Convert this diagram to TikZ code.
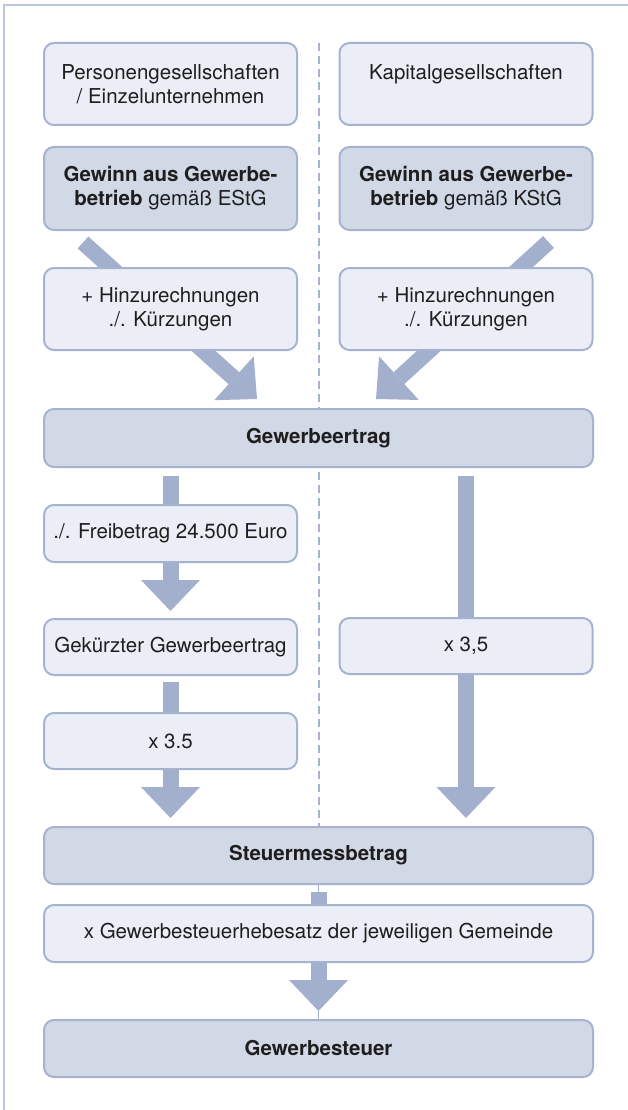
\documentclass[tikz,border=0pt]{standalone}
\usepackage{fontspec}
\setmainfont{TeX Gyre Heros}
\usetikzlibrary{arrows.meta, calc, backgrounds}

\definecolor{boxLine}{HTML}{A6B3D0}
\definecolor{boxLight}{HTML}{EBEEF6}
\definecolor{boxDark}{HTML}{D1D8E6}
\definecolor{arrowBlue}{HTML}{A2AFCD}
\definecolor{frameLine}{HTML}{BCC6DC}
\definecolor{textGray}{HTML}{1E1E1E}

\begin{document}
\begin{tikzpicture}[x=1pt, y=-1pt,
    lightBox/.style={draw=boxLine, line width=2pt, fill=boxLight, rounded corners=10pt,
        align=center, inner sep=0pt, text=textGray, font=\fontsize{20.5}{24}\selectfont},
    darkBox/.style={lightBox, fill=boxDark},
    halfBox/.style={minimum width=253pt},
    fullBox/.style={minimum width=549pt},
    flowBar/.style={draw=arrowBlue, line width=16pt},
    flowArrow/.style={flowBar, -{Triangle[width=59pt, length=31pt, line width=0pt]}}]
    % variables
    \pgfmathsetmacro{\vLeft}{170.5}
    \pgfmathsetmacro{\vRight}{466}
    \pgfmathsetmacro{\vMid}{318.5}

    \useasboundingbox (0,0) rectangle (628,1110);

    % frame
    \draw[frameLine, line width=1.5pt] (4,1110) -- (4,5) -- (628,5);

    % two columns
    \node[lightBox, halfBox, minimum height=82pt] (persG) at (\vLeft,84) {Personengesellschaften\\/ Einzelunternehmen};
    \node[lightBox, halfBox, minimum height=82pt] (kapG) at (\vRight,84) {Kapitalgesellschaften\\\phantom{/ Einzelunternehmen}};

    \node[darkBox, halfBox, minimum height=83pt] (gewinnE) at (\vLeft,188.5) {\textbf{Gewinn aus Gewerbe-}\\\textbf{betrieb} gemäß EStG};
    \node[darkBox, halfBox, minimum height=83pt] (gewinnK) at (\vRight,188.5) {\textbf{Gewinn aus Gewerbe-}\\\textbf{betrieb} gemäß KStG};

    \node[lightBox, halfBox, minimum height=82pt] (hinzuE) at (\vLeft,309) {+ Hinzurechnungen\\./. Kürzungen};
    \node[lightBox, halfBox, minimum height=82pt] (hinzuK) at (\vRight,309) {+ Hinzurechnungen\\./. Kürzungen};

    \node[darkBox, fullBox, minimum height=58pt] (gewerbe) at (\vMid,438) {\textbf{Gewerbeertrag}};

    \node[lightBox, halfBox, minimum height=57pt] (freib) at (\vLeft,533.5) {./. Freibetrag 24.500 Euro};
    \node[lightBox, halfBox, minimum height=56pt] (gekuerzt) at (\vLeft,647) {Gekürzter Gewerbeertrag};
    \node[lightBox, halfBox, minimum height=56pt] (malL) at (\vLeft,741) {x 3.5};
    \node[lightBox, halfBox, minimum height=56pt] (malR) at (\vRight,646) {x 3,5};

    % common part
    \node[darkBox, fullBox, minimum height=57pt] (steuer) at (\vMid,855.5) {\textbf{Steuermessbetrag}};
    \node[lightBox, fullBox, minimum height=57pt] (hebesatz) at (\vMid,933.5) {x Gewerbesteuerhebesatz der jeweiligen Gemeinde};
    \node[darkBox, fullBox, minimum height=57pt] (gewSteuer) at (\vMid,1048.5) {\textbf{Gewerbesteuer}};

    \begin{scope}[on background layer]
        \draw[boxLine, line width=2pt, dash pattern=on 8pt off 5pt] (\vMid,43) -- (steuer.north);
        \draw[arrowBlue, line width=1.5pt] (steuer.south) -- (gewSteuer.north);

        \coordinate (diagEa) at ($(gewinnE.south)+(-87.5,11.5)$);
        \coordinate (diagEb) at ($(gewerbe.north)+(-61.5,-9)$);
        \coordinate (diagKa) at ($(gewinnK.south)+(82.5,11)$);
        \coordinate (diagKb) at ($(gewerbe.north)+(57.5,-9)$);
        \draw[flowArrow] (diagEa) -- (diagEb);
        \draw[flowArrow] (diagKa) -- (diagKb);

        \draw[flowBar] ($(gewerbe.south -| freib.north)+(0,8)$) -- (freib.north);
        \draw[flowArrow] (freib.south) -- ($(gekuerzt.north)+(0,-7)$);
        \draw[flowBar] ($(gekuerzt.south)+(0,6)$) -- (malL.north);
        \draw[flowArrow] (malL.south) -- ($(steuer.north -| malL.south)+(0,-8)$);

        \draw[flowBar] ($(gewerbe.south -| malR.north)+(0,8)$) -- (malR.north);
        \draw[flowArrow] (malR.south) -- ($(steuer.north -| malR.south)+(0,-8)$);

        \draw[flowBar] ($(steuer.south)+(0,7)$) -- (hebesatz.north);
        \draw[flowArrow] (hebesatz.south) -- ($(gewSteuer.north)+(0,-8)$);
    \end{scope}
\end{tikzpicture}
\end{document}
